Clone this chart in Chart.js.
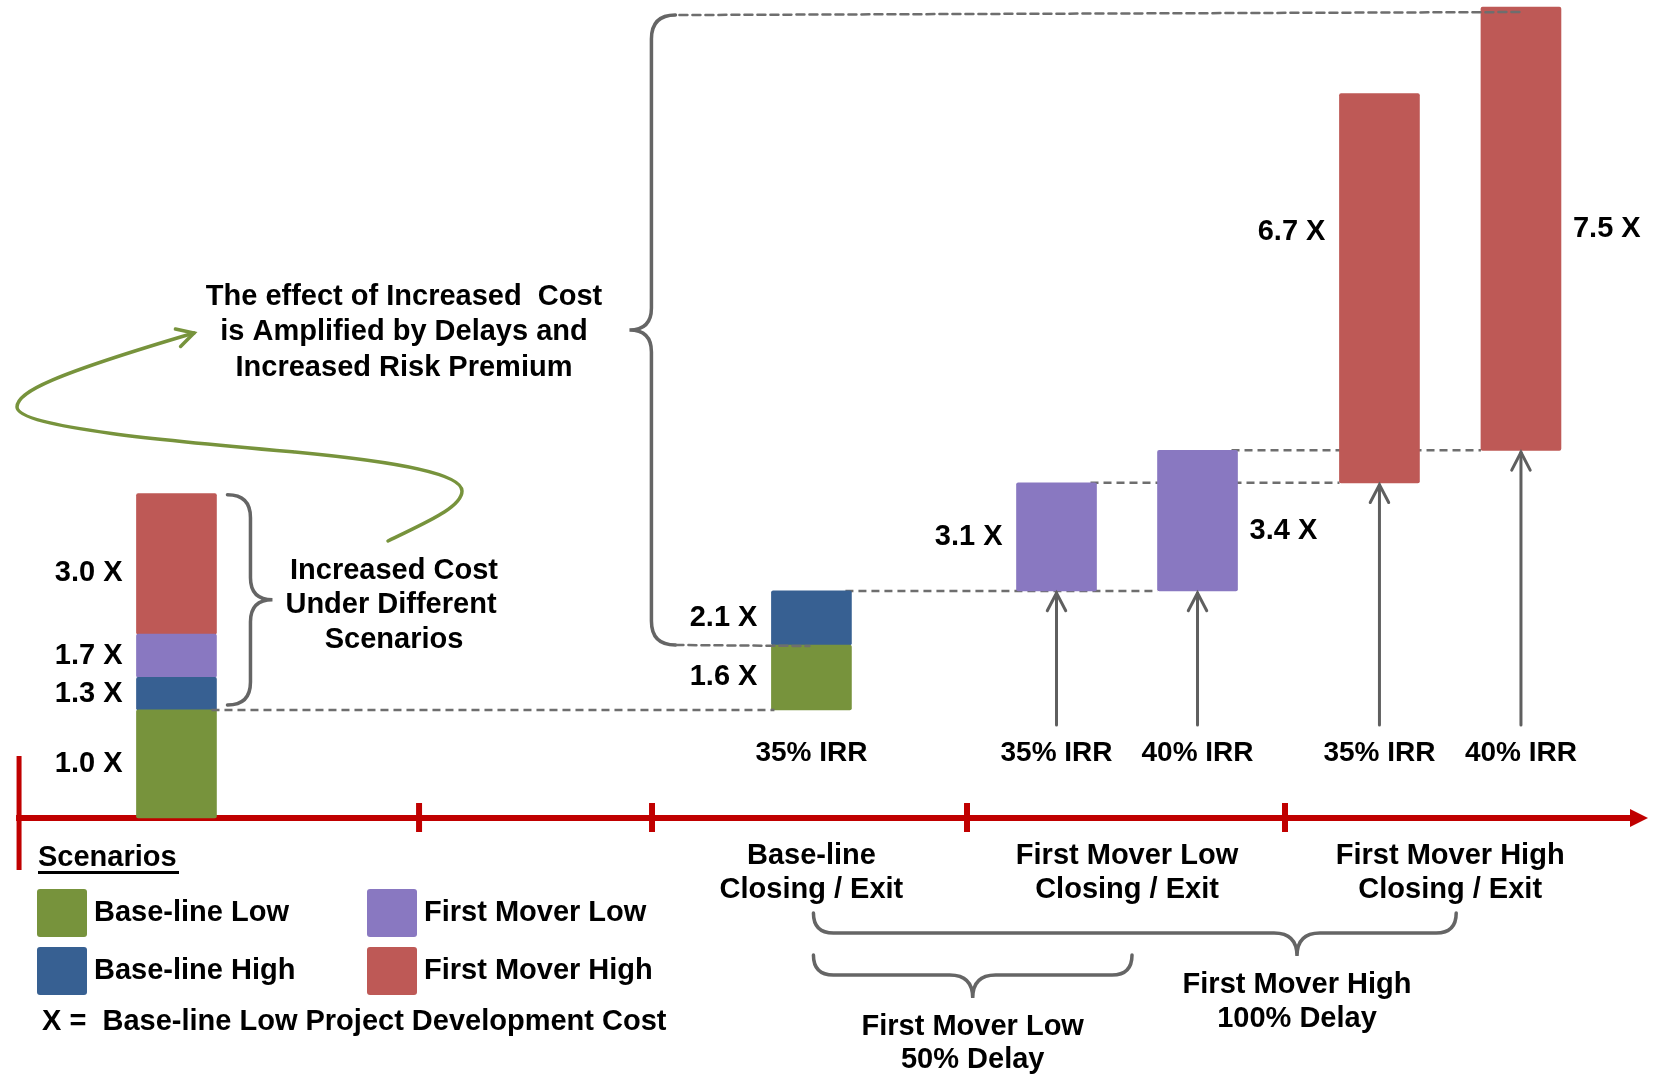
<!DOCTYPE html>
<html>
<head>
<meta charset="utf-8">
<title>Increased Cost Under Different Scenarios</title>
<script src="https://cdn.jsdelivr.net/npm/chart.js@4.4.1/dist/chart.umd.min.js"></script>
<style>
  html, body { margin: 0; padding: 0; background: #fff; }
  canvas { display: block; }
</style>
</head>
<body>
<canvas id="cost-chart" width="1657" height="1077"></canvas>
<script>
// one floating [from, to] range per bar slot, in multiples of X
var scenarios = ['Base-line Low', 'Base-line High', 'First Mover Low', 'First Mover High'];
var baselineLow = [[0, 1.0], [1.0, 1.6], null, null, null, null];
var baselineHigh = [[1.0, 1.3], [1.6, 2.1], null, null, null, null];
var firstMoverLow = [[1.3, 1.7], null, [2.1, 3.1], [2.1, 3.4], null, null];
var firstMoverHigh = [[1.7, 3.0], null, null, null, [3.1, 6.7], [3.4, 7.5]];

// bar slots along the timeline (percent of its width) and their captions
var slotPos = [10.65, 48.97, 63.76, 72.27, 83.25, 91.79];
var irrLabels = [null, '35% IRR', '35% IRR', '40% IRR', '35% IRR', '40% IRR'];
var timelineTicks = [1.15, 25.29, 39.35, 58.36, 77.55];
var phaseLabels = [['Base-line', 'Closing / Exit'], ['First Mover Low', 'Closing / Exit'], ['First Mover High', 'Closing / Exit']];
var phaseSlots = [[1], [2, 3], [4, 5]];
var delayLabels = [['First Mover Low', '50% Delay'], ['First Mover High', '100% Delay']];

var scenarioColors = ['#77933C', '#376092', '#8978C1', '#BE5956'];
var series = [baselineLow, baselineHigh, firstMoverLow, firstMoverHigh];
var FONT = '"Liberation Sans", Arial, sans-serif';
var GREY = '#656565';
var RED = '#C00000';
var BAR_W = 80;

// label placement per slot: side of the bar, and a pixel nudge for the top segment label
var labelSide = ['left', 'left', 'left', 'right', 'left', 'right'];
var topLabelNudge = [9, 0, 0, 10, -56, 0];

function text(ctx, str, x, y, align, size) {
    ctx.font = 'bold ' + (size || 29) + 'px ' + FONT;
    ctx.fillStyle = '#000';
    ctx.textAlign = align || 'center';
    ctx.textBaseline = 'middle';
    ctx.fillText(str, x, y);
}

function dashed(ctx, x1, y1, x2, y2) {
    ctx.save();
    ctx.strokeStyle = '#6e6e6e';
    ctx.lineWidth = 2.5;
    ctx.setLineDash([8, 5]);
    ctx.beginPath();
    ctx.moveTo(x1, y1);
    ctx.lineTo(x2, y2);
    ctx.stroke();
    ctx.restore();
}

// curly brace standing upright; dir -1 points left, +1 points right
function braceV(ctx, x, y1, y2, ym, dir, r1, r2) {
    var s = x + dir * r1;
    ctx.beginPath();
    ctx.moveTo(x, y1);
    ctx.quadraticCurveTo(s, y1, s, y1 + r1);
    ctx.lineTo(s, ym - r2);
    ctx.quadraticCurveTo(s, ym, s + dir * r2, ym);
    ctx.quadraticCurveTo(s, ym, s, ym + r2);
    ctx.lineTo(s, y2 - r1);
    ctx.quadraticCurveTo(s, y2, x, y2);
    ctx.stroke();
}

// curly brace lying flat, pointing down
function braceH(ctx, y, x1, x2, xm, r1, r2) {
    var s = y + r1;
    ctx.beginPath();
    ctx.moveTo(x1, y);
    ctx.quadraticCurveTo(x1, s, x1 + r1, s);
    ctx.lineTo(xm - r2, s);
    ctx.quadraticCurveTo(xm, s, xm, s + r2);
    ctx.quadraticCurveTo(xm, s, xm + r2, s);
    ctx.lineTo(x2 - r1, s);
    ctx.quadraticCurveTo(x2, s, x2, y);
    ctx.stroke();
}

function openHead(ctx, x, y, ang, len, spread) {
    ctx.beginPath();
    ctx.moveTo(x - len * Math.cos(ang - spread), y - len * Math.sin(ang - spread));
    ctx.lineTo(x, y);
    ctx.lineTo(x - len * Math.cos(ang + spread), y - len * Math.sin(ang + spread));
    ctx.stroke();
}

function swatch(ctx, x, y, w, h, color) {
    ctx.fillStyle = color;
    ctx.beginPath();
    ctx.roundRect(x, y, w, h, 3);
    ctx.fill();
}

function slotRange(slot) {
    var lo = Infinity, hi = -Infinity;
    series.forEach(function (s) {
        if (s[slot]) { lo = Math.min(lo, s[slot][0]); hi = Math.max(hi, s[slot][1]); }
    });
    return [lo, hi];
}

var datasets = series.map(function (s, i) {
    var pts = [];
    s.forEach(function (r, slot) { if (r) pts.push({ x: slotPos[slot], y: r }); });
    return {
        label: scenarios[i],
        data: pts,
        backgroundColor: scenarioColors[i],
        borderWidth: 0,
        borderRadius: 2,
        borderSkipped: false,
        barThickness: BAR_W,
        grouped: false
    };
});

var overlay = {
    id: 'overlay',
    beforeDatasetsDraw: function (chart) {
        var ctx = chart.ctx;
        var xs = chart.scales.x, ys = chart.scales.y;
        var px = function (v) { return xs.getPixelForValue(v); };
        var py = function (v) { return ys.getPixelForValue(v); };
        var axisY = py(0);

        // timeline
        ctx.save();
        ctx.strokeStyle = RED;
        ctx.fillStyle = RED;
        ctx.lineWidth = 6;
        ctx.beginPath();
        ctx.moveTo(px(timelineTicks[0]) - 3, axisY);
        ctx.lineTo(1631, axisY);
        ctx.stroke();
        ctx.beginPath();
        ctx.moveTo(1630, axisY - 9);
        ctx.lineTo(1648, axisY);
        ctx.lineTo(1630, axisY + 9);
        ctx.closePath();
        ctx.fill();
        ctx.lineWidth = 5;
        ctx.beginPath();
        ctx.moveTo(px(timelineTicks[0]), axisY - 62);
        ctx.lineTo(px(timelineTicks[0]), axisY + 52);
        ctx.stroke();
        ctx.lineWidth = 6;
        timelineTicks.slice(1).forEach(function (t) {
            ctx.beginPath();
            ctx.moveTo(px(t), axisY - 15);
            ctx.lineTo(px(t), axisY + 14);
            ctx.stroke();
        });
        ctx.restore();

        // level connectors running behind the bars
        [[baselineHigh[1][1], 1, 3], [firstMoverLow[2][1], 2, 4], [firstMoverLow[3][1], 3, 5]].forEach(function (c) {
            dashed(ctx, px(slotPos[c[1]]) + BAR_W / 2 - 6, py(c[0]), px(slotPos[c[2]]) - BAR_W / 2, py(c[0]));
        });
    },
    afterDatasetsDraw: function (chart) {
        var ctx = chart.ctx;
        var xs = chart.scales.x, ys = chart.scales.y;
        var px = function (v) { return xs.getPixelForValue(v); };
        var py = function (v) { return ys.getPixelForValue(v); };
        ctx.save();

        // base cost level carried over to the base-line exit bar
        dashed(ctx, px(slotPos[0]) + BAR_W / 2 - 5, py(baselineLow[0][1]), px(slotPos[1]) - BAR_W / 2 + 3, py(baselineLow[0][1]));

        // big brace spanning base-line low to first mover high
        var bx = px(slotPos[1]) - 136;
        var bTop = py(firstMoverHigh[5][1]) + 8, bBot = py(baselineLow[1][1]);
        ctx.strokeStyle = GREY;
        ctx.lineWidth = 3.5;
        ctx.lineCap = 'round';
        braceV(ctx, bx, bTop, bBot, (bTop + bBot) / 2, -1, 24, 22);
        dashed(ctx, bx + 4, bTop, px(slotPos[5]), bTop - 3);
        dashed(ctx, bx, bBot, px(slotPos[1]) - 2, bBot + 1);

        // brace beside the cost bar
        var sx = px(slotPos[0]) + BAR_W / 2 + 11;
        var sTop = py(firstMoverHigh[0][1]) + 1, sBot = py(baselineLow[0][1]) - 5;
        ctx.strokeStyle = GREY;
        ctx.lineWidth = 3.5;
        braceV(ctx, sx, sTop, sBot, (sTop + sBot) / 2, 1, 23, 22);

        // arrows rising from the IRR captions
        ctx.strokeStyle = '#5f5f5f';
        ctx.lineWidth = 3;
        [2, 3, 4, 5].forEach(function (slot) {
            var x = px(slotPos[slot]);
            var tip = py(slotRange(slot)[0]) + 2;
            ctx.beginPath();
            ctx.moveTo(x, 725);
            ctx.lineTo(x, tip);
            ctx.stroke();
            openHead(ctx, x, tip, -Math.PI / 2, 20, 0.48);
        });

        // green sweep from the cost brace to the note
        ctx.strokeStyle = '#77933C';
        ctx.lineWidth = 3.5;
        ctx.beginPath();
        ctx.moveTo(388, 541);
        ctx.bezierCurveTo(422, 524, 462, 508, 462, 491);
        ctx.bezierCurveTo(462, 474, 400, 462, 295, 452);
        ctx.bezierCurveTo(180, 442, 17, 428, 17, 407);
        ctx.bezierCurveTo(17, 392, 52, 375, 194, 333);
        ctx.stroke();
        openHead(ctx, 194, 333, Math.atan2(333 - 375, 194 - 52), 19, 0.5);

        // bottom braces for the delay cases
        var c1 = px(slotPos[1]) + 2;
        var c2 = (px(slotPos[2]) + px(slotPos[3])) / 2 + 5;
        var c3 = (px(slotPos[4]) + px(slotPos[5])) / 2 + 6;
        ctx.strokeStyle = GREY;
        ctx.lineWidth = 3.5;
        braceH(ctx, 913, c1, c3, 1297, 20, 23);
        braceH(ctx, 955, c1, c2, (c1 + c2) / 2, 20, 23);
        ctx.restore();

        // value labels beside every bar segment
        series.forEach(function (s) {
            s.forEach(function (r, slot) {
                if (!r) return;
                var top = slotRange(slot)[1] === r[1];
                var y = py((r[0] + r[1]) / 2) + (top ? topLabelNudge[slot] : 0);
                var x = px(slotPos[slot]);
                var left = labelSide[slot] === 'left';
                text(ctx, r[1].toFixed(1) + ' X', left ? x - BAR_W / 2 - 14 : x + BAR_W / 2 + 12, y, left ? 'right' : 'left');
            });
        });

        irrLabels.forEach(function (l, slot) {
            if (l) text(ctx, l, px(slotPos[slot]), 753, 'center', 28);
        });

        phaseLabels.forEach(function (lines, i) {
            var slots = phaseSlots[i];
            var cx = slots.reduce(function (a, s) { return a + px(slotPos[s]); }, 0) / slots.length;
            text(ctx, lines[0], cx, 856);
            text(ctx, lines[1], cx, 890);
        });

        text(ctx, delayLabels[0][0], (c1 + c2) / 2, 1027);
        text(ctx, delayLabels[0][1], (c1 + c2) / 2, 1060);
        text(ctx, delayLabels[1][0], 1297, 985);
        text(ctx, delayLabels[1][1], 1297, 1019);

        text(ctx, 'Increased Cost', 394, 571);
        text(ctx, 'Under Different', 391, 605);
        text(ctx, 'Scenarios', 394, 640);

        text(ctx, 'The effect of Increased  Cost', 404, 297);
        text(ctx, 'is Amplified by Delays and', 404, 332);
        text(ctx, 'Increased Risk Premium', 404, 368);

        // legend
        text(ctx, 'Scenarios', 38, 858, 'left');
        ctx.fillStyle = '#000';
        ctx.fillRect(38, 871, 141, 3);
        var legendPos = [[37, 889], [37, 947], [367, 889], [367, 947]];
        scenarios.forEach(function (name, i) {
            swatch(ctx, legendPos[i][0], legendPos[i][1], 50, 48, scenarioColors[i]);
            text(ctx, name, legendPos[i][0] + 57, legendPos[i][1] + 24, 'left');
        });
        text(ctx, 'X =  Base-line Low Project Development Cost', 42, 1022, 'left');
    }
};

new Chart(document.getElementById('cost-chart'), {
    type: 'bar',
    data: { datasets: datasets },
    options: {
        responsive: false,
        animation: false,
        devicePixelRatio: 1,
        layout: { padding: 0 },
        plugins: { legend: { display: false }, tooltip: { enabled: false } },
        scales: {
            x: { type: 'linear', min: 0, max: 100, offset: false, display: false },
            y: { min: -2.395, max: 7.565, display: false }
        }
    },
    plugins: [overlay]
});
</script>
</body>
</html>
